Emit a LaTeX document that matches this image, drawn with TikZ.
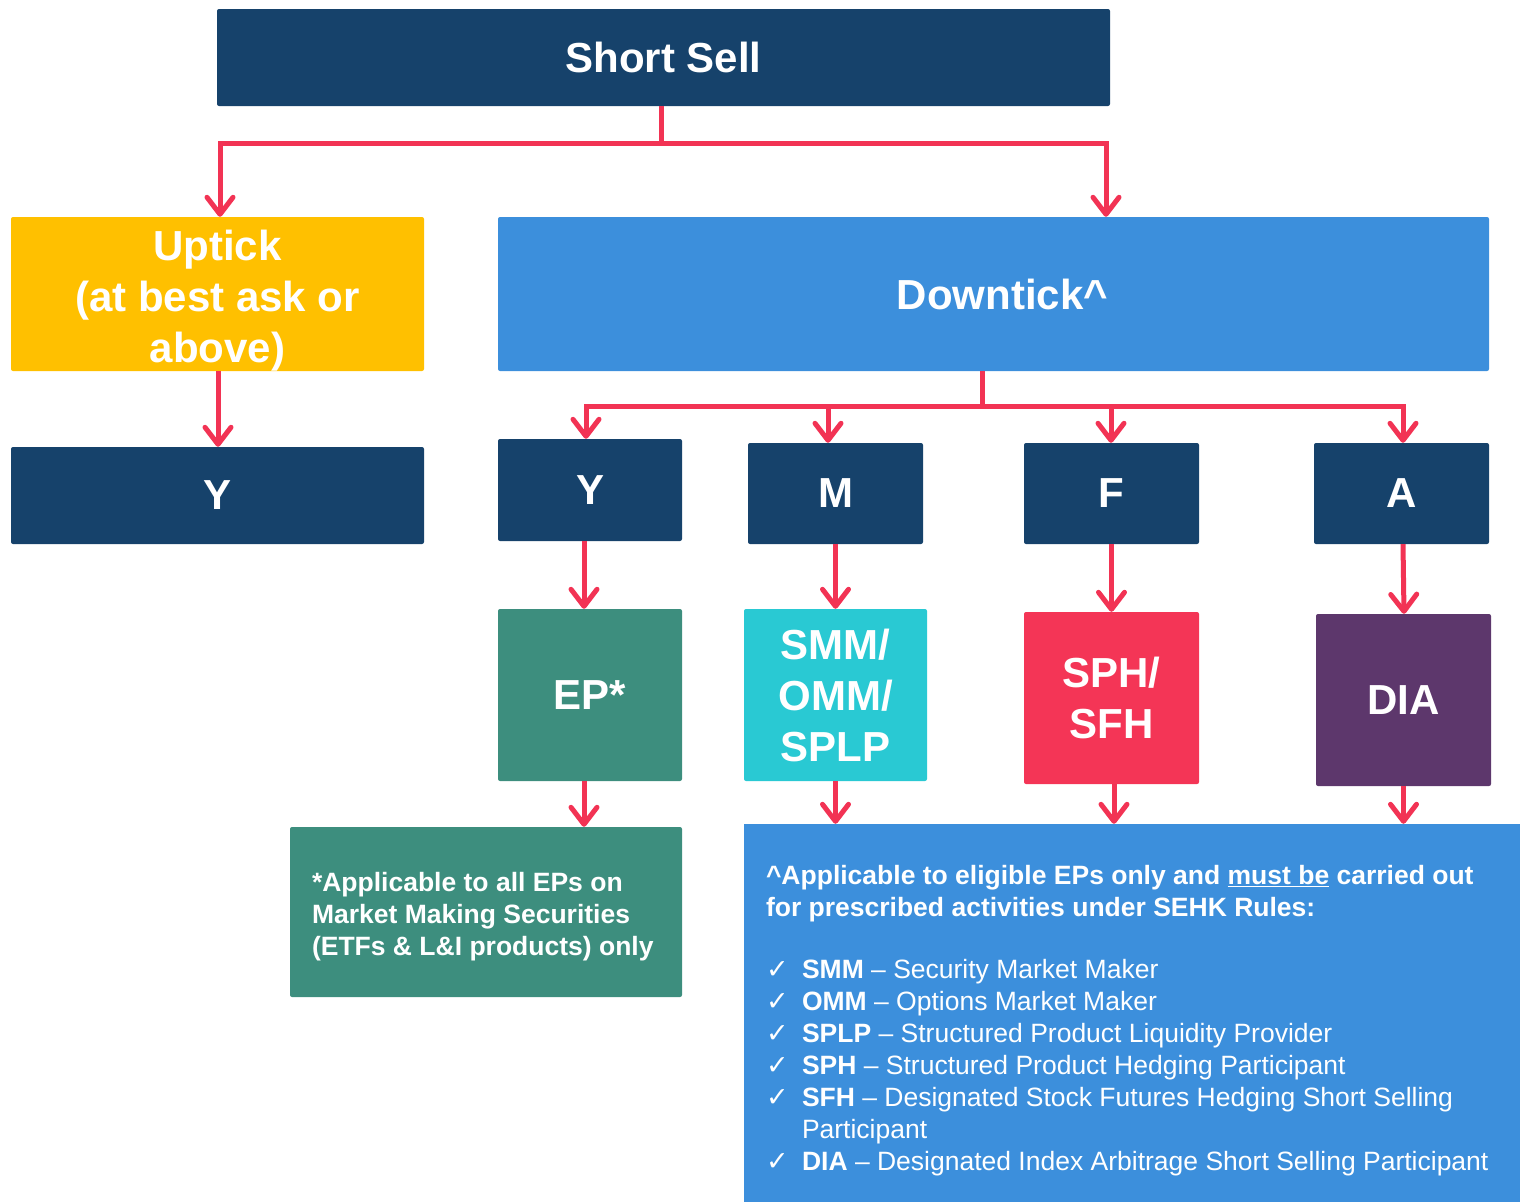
\documentclass[tikz,border=0pt]{standalone}
\usepackage{fontspec}
\setmainfont{Liberation Sans}
\newfontfamily\checkfont{DejaVu Sans}
\usetikzlibrary{arrows.meta,calc}
\definecolor{navy}{HTML}{16426B}
\definecolor{linkred}{HTML}{F23354}
\definecolor{upyellow}{HTML}{FFC000}
\definecolor{downblue}{HTML}{3C8FDC}
\definecolor{tealgreen}{HTML}{3D8E7E}
\definecolor{cyanbox}{HTML}{29C9D3}
\definecolor{redbox}{HTML}{F43556}
\definecolor{purplebox}{HTML}{5D376C}
\tikzset{
  box/.style={rectangle, rounded corners=2pt, inner sep=0pt, text=white, align=center,
    font=\fontsize{42}{51}\selectfont\bfseries},
  conn/.style={draw=linkred, line width=5pt, -{Straight Barb[length=17pt,width=26pt,round]}},
  notetext/.style={text=white, align=left, inner sep=0pt, anchor=north west},
}
\newcommand{\chk}{\makebox[36pt][l]{\checkfont\fontsize{27}{32}\selectfont ✓}}
\begin{document}
\begin{tikzpicture}[x=1pt,y=-1pt]
\useasboundingbox (0,0) rectangle (1520,1202);
% boxes
\node[box, fill=navy, minimum width=893, minimum height=97] (ss) at (663.5,57.5) {Short Sell};
\node[box, fill=upyellow, minimum width=413, minimum height=154] (up) at (217.5,294) {};
\node[box, text=white] (uptxt) at ([yshift=-7pt]up.center) {Uptick\\(at best ask or\\above)};
\node[box, fill=downblue, minimum width=991, minimum height=154] (dt) at (993.5,294) {\hspace*{18pt}Downtick\textasciicircum};
\node[box, fill=navy, minimum width=413, minimum height=97] (y1) at (217.5,495.5) {Y};
\node[box, fill=navy, minimum width=184, minimum height=102] (y2) at (590,490) {Y};
\node[box, fill=navy, minimum width=175, minimum height=101] (m) at (835.5,493.5) {M};
\node[box, fill=navy, minimum width=175, minimum height=101] (f) at (1111.5,493.5) {F};
\node[box, fill=navy, minimum width=175, minimum height=101] (a) at (1401.5,493.5) {A};
\node[box, fill=tealgreen, minimum width=184, minimum height=172] (ep) at (590,695) {EP*};
\node[box, fill=cyanbox, minimum width=183, minimum height=172] (smm) at (835.5,695) {SMM/\\OMM/\\SPLP};
\node[box, fill=redbox, minimum width=175, minimum height=172] (sph) at (1111.5,698) {SPH/\\SFH};
\node[box, fill=purplebox, minimum width=175, minimum height=172] (dia) at (1403.5,700) {DIA};
\node[box, fill=tealgreen, minimum width=392, minimum height=170] (note) at (486,912) {};
\node[box, fill=downblue, rounded corners=0pt, minimum width=776, minimum height=378] (big) at (1132,1013) {};
% texts in note boxes
\node[notetext, font=\fontsize{26.5}{32}\selectfont\bfseries] (notetxt) at ([xshift=22pt,yshift=-45pt]note.north west)
  {*Applicable to all EPs on\\Market Making Securities\\(ETFs \& L\&I products) only};
\node[notetext, font=\fontsize{26.5}{32}\selectfont] (bigtxt) at ([xshift=22pt,yshift=-41pt]big.north west)
  {\textbf{\textasciicircum Applicable to eligible EPs only and \underline{must be} carried out}\\
   \textbf{for prescribed activities under SEHK Rules:}\\[30pt]
   \chk\textbf{SMM} – Security Market Maker\\
   \chk\textbf{OMM} – Options Market Maker\\
   \chk\textbf{SPLP} – Structured Product Liquidity Provider\\
   \chk\textbf{SPH} – Structured Product Hedging Participant\\
   \chk\textbf{SFH} – Designated Stock Futures Hedging Short Selling\\
   \hspace*{36pt}Participant\\
   \chk\textbf{DIA} – Designated Index Arbitrage Short Selling Participant};
% connectors
\draw[conn] ([xshift=-2.5pt]ss.south) -- ++(0,37) -| ([xshift=2.5pt]up.north);
\draw[conn] ([xshift=-2.5pt]ss.south) -- ++(0,37) -| ([xshift=112.5pt]dt.north);
\draw[conn] ([xshift=0.5pt]up.south) -- ([xshift=0.5pt]y1.north);
\draw[conn] ([xshift=-11.5pt]dt.south) -- ++(0,35) -| ([xshift=-4pt]y2.north);
\draw[conn] ([xshift=-11.5pt]dt.south) -- ++(0,35) -| ([xshift=-7.5pt]m.north);
\draw[conn] ([xshift=-11.5pt]dt.south) -- ++(0,35) -| ([xshift=-0.5pt]f.north);
\draw[conn] ([xshift=-11.5pt]dt.south) -- ++(0,35) -| ([xshift=1.5pt]a.north);
\draw[conn] ([xshift=-6pt]y2.south) -- ([xshift=-6pt]ep.north);
\draw[conn] (m.south) -- (smm.north);
\draw[conn] (f.south) -- (sph.north);
\draw[conn] ([xshift=1.5pt]a.south) -- ([xshift=0.5pt]dia.north);
\draw[conn] ([xshift=-6pt]ep.south) -- ([xshift=-6pt]ep.south |- note.north);
\draw[conn] (smm.south) -- (smm.south |- big.north);
\draw[conn] ([xshift=2.5pt]sph.south) -- ([xshift=2.5pt]sph.south |- big.north);
\draw[conn] (dia.south) -- (dia.south |- big.north);
\end{tikzpicture}
\end{document}
